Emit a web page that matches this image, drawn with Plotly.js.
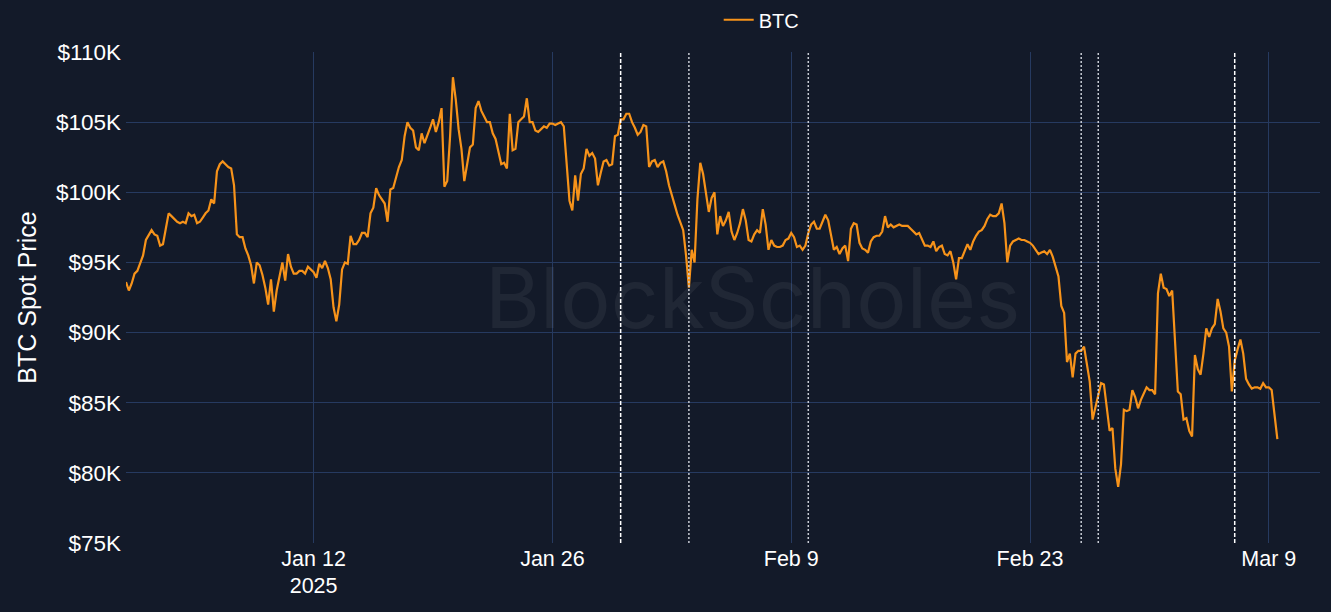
<!DOCTYPE html>
<html>
<head>
<meta charset="utf-8">
<script src="https://cdn.plot.ly/plotly-3.0.1.min.js"></script>
<style>
  html, body { margin: 0; padding: 0; background: #131a29; }
  #chart { width: 1331px; height: 612px; }
</style>
</head>
<body>
<div id="chart"></div>
<script>
// BTC spot price (USD thousands), 4-hourly samples starting 2025-01-01 00:00 UTC
const seriesStart = '2025-01-01T00:00:00Z';
const sampleHours = 4;
const btcPrice = [
  93.6, 93.0, 93.5, 94.2, 94.4, 94.9,
  95.5, 96.6, 97.0, 97.3, 97.0, 96.9,
  96.2, 96.3, 97.4, 98.5, 98.3, 98.1,
  97.9, 97.8, 97.9, 97.8, 98.5, 98.3,
  98.4, 97.8, 97.9, 98.2, 98.5, 98.7,
  99.5, 99.2, 101.5, 102.0, 102.2, 102.0,
  101.8, 101.7, 100.5, 97.0, 96.8, 96.8,
  96.0, 95.5, 94.8, 93.5, 95.0, 94.8,
  94.1, 93.2, 92.0, 93.8, 91.5, 93.0,
  94.1, 95.0, 93.7, 95.6, 94.7, 94.2,
  94.2, 94.4, 94.4, 94.2, 94.7, 94.5,
  94.3, 93.9, 94.9, 94.6, 95.1, 94.6,
  93.8, 91.8, 90.8, 92.0, 94.5, 95.0,
  94.9, 96.9, 96.3, 96.3, 96.6, 97.1,
  97.1, 96.8, 98.5, 98.9, 100.3, 99.8,
  99.5, 99.2, 97.9, 100.2, 100.3, 101.1,
  101.8, 102.3, 104.0, 105.0, 104.6, 104.4,
  103.2, 103.0, 104.2, 103.5, 104.0, 104.6,
  105.2, 104.3, 105.0, 106.0, 100.4, 100.8,
  104.0, 108.2, 106.6, 104.5, 103.1, 100.8,
  102.0, 103.2, 103.4, 106.0, 106.5, 105.8,
  105.4, 105.0, 105.0, 104.2, 103.8, 102.9,
  102.0, 102.1, 101.7, 105.6, 103.0, 103.1,
  105.0, 105.2, 105.4, 106.7, 105.0, 105.0,
  104.4, 104.3, 104.5, 104.7, 104.6, 104.9,
  104.9, 104.8, 104.9, 105.0, 104.7, 101.9,
  99.4, 98.7, 101.2, 99.4, 101.3, 101.7,
  103.1, 102.6, 102.8, 102.4, 100.5, 101.4,
  102.2, 102.3, 101.9, 102.0, 104.0, 104.1,
  105.2, 105.2, 105.6, 105.6, 105.0, 104.6,
  104.1, 104.3, 104.8, 104.7, 101.8, 102.2,
  102.3, 101.8, 102.1, 102.2, 101.5, 100.5,
  99.7, 99.1, 98.4, 97.9, 97.3, 95.5,
  93.2, 95.9, 95.0, 99.5, 102.1, 101.3,
  99.8, 98.6, 99.6, 100.0, 97.0, 98.3,
  97.6, 98.0, 98.6, 97.2, 96.6, 97.1,
  97.8, 98.8, 98.0, 96.6, 96.5, 97.0,
  97.3, 97.1, 98.8, 97.7, 95.9, 96.6,
  96.2, 96.1, 96.1, 96.2, 96.6, 96.7,
  97.1, 96.8, 96.1, 96.2, 95.9, 96.2,
  97.1, 97.7, 97.9, 97.4, 97.4, 97.9,
  98.4, 98.0, 97.0, 95.9, 96.1, 95.6,
  96.0, 96.2, 95.1, 97.4, 97.8, 97.7,
  96.4, 96.0, 95.9, 95.7, 96.5, 96.8,
  96.9, 96.9, 97.2, 98.3, 97.5, 97.7,
  97.5, 97.6, 97.7, 97.6, 97.6, 97.6,
  97.4, 97.2, 97.0, 97.1, 96.7, 96.2,
  96.2, 96.1, 96.5, 95.8, 96.1, 96.2,
  95.6, 95.5, 95.8, 95.0, 93.8, 95.3,
  95.3, 95.8, 96.3, 95.9, 96.5, 96.9,
  97.2, 97.3, 97.6, 98.1, 98.4, 98.3,
  98.3, 98.5, 99.2, 97.8, 95.0, 96.2,
  96.5, 96.6, 96.7, 96.6, 96.6, 96.5,
  96.4, 96.2, 95.9, 95.6, 95.7, 95.8,
  95.6, 95.9, 95.4, 94.7, 94.0, 91.9,
  91.4, 87.9, 88.5, 86.8, 88.5, 88.7,
  88.7, 89.0, 87.7, 86.5, 83.8, 84.7,
  85.5, 86.4, 86.3, 84.6, 83.0, 83.2,
  80.3, 79.0, 80.6, 84.5, 84.4, 84.5,
  85.9, 85.4, 84.6, 85.2, 85.6, 86.1,
  85.9, 85.9, 85.6, 92.8, 94.2, 93.2,
  93.1, 92.6, 93.0, 89.7, 85.8, 85.6,
  83.8, 83.9, 83.0, 82.6, 88.4, 87.4,
  87.0, 88.5, 90.3, 89.7, 90.3, 90.6,
  92.4, 91.5, 90.3, 90.0, 89.0, 85.8,
  88.0, 88.8, 89.5, 88.5, 86.7, 86.3,
  86.0, 86.1, 86.1, 86.0, 86.4, 86.1,
  86.1, 85.9, 84.0, 82.4
];

// Event markers (dashed vertical lines)
const eventDatesBright = ['2025-01-30', '2025-03-07'];
const eventDatesDim = ['2025-02-03', '2025-02-10', '2025-02-26', '2025-02-27'];

// Axis ticks
const yTickVals = [75, 80, 85, 90, 95, 100, 105, 110];
const yTickText = ['$75K', '$80K', '$85K', '$90K', '$95K', '$100K', '$105K', '$110K'];
const xRange = ['2025-01-01 00:00', '2025-03-12 00:00'];

const t0 = Date.parse(seriesStart);
const times = btcPrice.map((_, i) => new Date(t0 + i * sampleHours * 3600000).toISOString());

const shapes = [];
eventDatesBright.forEach(d => shapes.push({
  type: 'line', xref: 'x', yref: 'paper', x0: d, x1: d, y0: 0, y1: 1,
  line: { color: '#ffffff', width: 1.5, dash: '4px,2px' }
}));
eventDatesDim.forEach(d => shapes.push({
  type: 'line', xref: 'x', yref: 'paper', x0: d, x1: d, y0: 0, y1: 1,
  line: { color: '#c8ccd4', width: 1.5, dash: '2px,2px' }
}));

const trace = {
  x: times, y: btcPrice, type: 'scatter', mode: 'lines', name: 'BTC',
  line: { color: '#f7931a', width: 2.2 }
};

const FONT = 'Liberation Sans, Arial, Helvetica, sans-serif';

const layout = {
  width: 1331, height: 612,
  paper_bgcolor: '#131a29', plot_bgcolor: '#131a29',
  margin: { l: 126, r: 11, t: 52, b: 69, autoexpand: false },
  font: { family: FONT, color: '#ffffff', size: 21 },
  showlegend: true,
  legend: { orientation: 'h', x: 0.532, xanchor: 'center', y: 1.026, yanchor: 'bottom',
            font: { size: 20, color: '#ffffff', family: FONT }, bgcolor: 'rgba(0,0,0,0)' },
  xaxis: {
    type: 'date', range: xRange,
    tick0: '2025-01-12', dtick: 14 * 86400000,
    showgrid: true, gridcolor: '#263a60', gridwidth: 1,
    zeroline: false, showline: false, ticks: '',
    tickfont: { size: 21.5, color: '#ffffff', family: FONT }
  },
  yaxis: {
    range: [75, 110], tickvals: yTickVals, ticktext: yTickText,
    showgrid: true, gridcolor: '#263a60', gridwidth: 1,
    zeroline: false, showline: false, ticks: '',
    ticklabelstandoff: 4,
    tickfont: { size: 22.5, color: '#ffffff', family: FONT },
    title: { text: 'BTC Spot Price', font: { size: 25, color: '#ffffff', family: FONT }, standoff: 12 }
  },
  shapes: shapes,
  annotations: [{
    text: 'BlockScholes', xref: 'paper', yref: 'paper', x: 0.525, y: 0.50,
    showarrow: false, font: { size: 84, color: 'rgba(255,255,255,0.06)', family: 'Inter, sans-serif' }
  }]
};

Plotly.newPlot('chart', [trace], layout, { displayModeBar: false, staticPlot: true });
</script>
</body>
</html>
